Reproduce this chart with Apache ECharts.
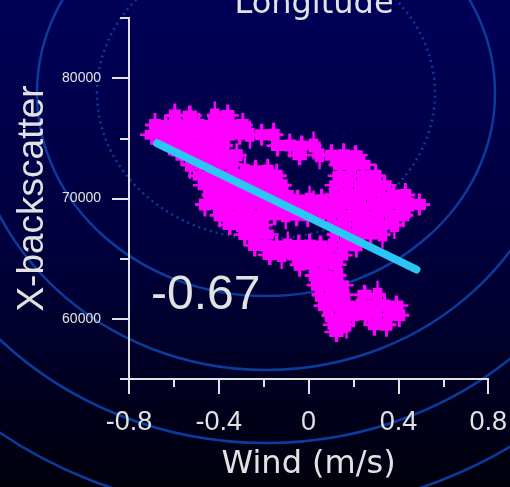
<!DOCTYPE html>
<html><head><meta charset="utf-8">
<script src="https://cdn.jsdelivr.net/npm/echarts@6/dist/echarts.min.js"></script>
<style>html,body{margin:0;padding:0;background:#00002a;} #c{width:510px;height:487px;}</style>
</head><body><div id="c"></div>
<script>
// ---- data ----
const titleText = 'Longitude';
const xAxisName = 'Wind (m/s)';
const yAxisName = 'X-backscatter';
const correlationText = '-0.67';
const xMin = -0.8, xMax = 0.8, xStep = 0.4;
const yMin = 55000, yMax = 85000, yMinorStep = 5000;
const yMajorTicks = [60000, 70000, 80000];

// magenta observations, grouped by backscatter level
const backscatterRows = [76900, 76100, 75300, 74400, 73600, 72800, 72300, 71900, 71100, 70300, 69900, 69500,
  68600, 67800, 67000, 66100, 65300, 64500, 63600, 62800, 62000, 61100, 60300, 59500, 58900];
const windRows = [
  [-0.596, -0.529, -0.418, -0.36],
  [-0.684, -0.636, -0.587, -0.538, -0.489, -0.44, -0.391, -0.342, -0.293],
  [-0.698, -0.649, -0.6, -0.551, -0.502, -0.453, -0.404, -0.356, -0.307, -0.262, -0.209, -0.156],
  [-0.618, -0.569, -0.52, -0.471, -0.422, -0.373, -0.138, -0.084, -0.031, 0.022],
  [-0.564, -0.516, -0.467, -0.418, -0.369, -0.32, -0.04, 0.049, 0.102, 0.156, 0.209],
  [-0.529, -0.48, -0.431, -0.382, -0.333, 0.138, 0.191, 0.244],
  [-0.284, -0.236, -0.182],
  [-0.484, -0.436, -0.387, -0.338, -0.289, -0.24, -0.191, -0.142, 0.138, 0.191, 0.244, 0.298],
  [-0.462, -0.413, -0.364, -0.316, -0.267, -0.218, -0.169, -0.12, 0.124, 0.178, 0.231, 0.284, 0.338],
  [-0.44, -0.391, -0.342, -0.293, -0.244, -0.196, -0.147, -0.098, 0.111, 0.164, 0.218, 0.271, 0.324, 0.378, 0.431],
  [-0.049, 0.004, 0.058],
  [-0.462, -0.418, -0.369, -0.32, -0.271, -0.222, -0.173, -0.124, -0.076, -0.027, 0.022, 0.076, 0.129, 0.182, 0.236, 0.289, 0.342, 0.396, 0.449, 0.493],
  [-0.396, -0.347, -0.298, -0.249, -0.2, -0.151, -0.102, -0.053, -0.004, 0.049, 0.102, 0.156, 0.209, 0.262, 0.316, 0.369, 0.422],
  [-0.351, -0.302, -0.253, -0.204, 0.116, 0.169, 0.222, 0.276, 0.329, 0.382],
  [-0.284, -0.236, -0.187, 0.116, 0.169, 0.222, 0.276, 0.329],
  [-0.24, -0.191, -0.142, -0.093, -0.044, 0.004, 0.053, 0.107, 0.16, 0.213],
  [-0.173, -0.12, -0.067, -0.013, 0.04, 0.093, 0.147],
  [-0.04, 0.013, 0.067, 0.12],
  [0.027, 0.08, 0.133],
  [0.04, 0.093, 0.147],
  [0.049, 0.102, 0.156, 0.249, 0.307],
  [0.071, 0.124, 0.178, 0.231, 0.284, 0.338, 0.391],
  [0.093, 0.147, 0.2, 0.253, 0.307, 0.36, 0.404],
  [0.116, 0.169, 0.293, 0.347],
  [0.124]
];
// fitted line end points
const fitWind = [-0.676, 0.48];
const fitBackscatter = [74600, 64100];

// ---- build ----
const points = [];
windRows.forEach((row, i) => row.forEach(w => points.push([w, backscatterRows[i]])));
const fitLine = fitWind.map((w, i) => [w, fitBackscatter[i]]);

const axisColor = '#e2e2e2';
const ringColor = '#0b3c9c';
const ringCenter = [266, 93];
const ringRadii = [[229, 203], [297, 277], [375, 350], [452, 420]];
const dottedRadii = [169, 146];
const crossPath = 'path://M4,6H16V18H4Z M8.5,0H11.5V24H8.5Z M0,10.5H20V13.5H0Z';
const crossSizes = [[20, 24], [24, 20], [16, 28], [22, 22]];

const graphics = [{
  type: 'rect', z: -100, silent: true,
  shape: {x: 0, y: 0, width: 510, height: 487},
  style: {fill: new echarts.graphic.LinearGradient(0, 0, 0, 1, [
    {offset: 0, color: '#000058'}, {offset: 0.5, color: '#00003e'}, {offset: 1, color: '#00000c'}])}
}];
ringRadii.forEach(r => graphics.push({
  type: 'ellipse', z: -50, silent: true,
  shape: {cx: ringCenter[0], cy: ringCenter[1], rx: r[0], ry: r[1]},
  style: {fill: 'none', stroke: ringColor, lineWidth: 2.5}
}));
graphics.push({
  type: 'ellipse', z: -50, silent: true,
  shape: {cx: ringCenter[0], cy: ringCenter[1], rx: dottedRadii[0], ry: dottedRadii[1]},
  style: {fill: 'none', stroke: ringColor, lineWidth: 2.5, lineDash: [2, 4]}
});
graphics.push({
  type: 'text', z: 100, silent: true, x: 151, y: 296,
  style: {text: correlationText, fill: axisColor, font: '48px "Liberation Sans", Arial, sans-serif',
    textAlign: 'left', textVerticalAlign: 'middle'}
});

const chart = echarts.init(document.getElementById('c'), null, {renderer: 'canvas'});
chart.setOption({
  animation: false,
  title: {
    text: titleText, left: 309, top: -16, textAlign: 'center',
    textStyle: {color: axisColor, fontSize: 32, fontWeight: 'normal', fontFamily: 'DejaVu Sans'}
  },
  graphic: graphics,
  grid: {left: 129, right: 21, top: 18, bottom: 108, containLabel: false},
  xAxis: {
    type: 'value', min: xMin, max: xMax, interval: xStep,
    name: xAxisName, nameLocation: 'middle', nameGap: 70,
    nameTextStyle: {color: axisColor, fontSize: 32, fontFamily: 'DejaVu Sans'},
    axisLine: {show: true, onZero: false, lineStyle: {color: axisColor, width: 2}},
    axisTick: {show: true, length: 15, lineStyle: {color: axisColor, width: 2}},
    minorTick: {show: true, splitNumber: 2, length: 8, lineStyle: {color: axisColor, width: 2}},
    splitLine: {show: false}, minorSplitLine: {show: false},
    axisLabel: {color: axisColor, fontSize: 27, margin: 30, fontFamily: '"Liberation Sans", Arial, sans-serif',
      showMinLabel: true, showMaxLabel: true}
  },
  yAxis: [{
    type: 'value', min: yMin, max: yMax, interval: yMinorStep, position: 'left',
    name: yAxisName, nameLocation: 'middle', nameGap: 75, nameRotate: 90,
    nameTextStyle: {color: axisColor, fontSize: 37, fontFamily: '"Liberation Sans", Arial, sans-serif'},
    axisLine: {show: true, onZero: false, lineStyle: {color: axisColor, width: 2}},
    axisTick: {show: true, length: 9, lineStyle: {color: axisColor, width: 2}},
    axisLabel: {show: true, color: axisColor, fontSize: 14, margin: 28,
      fontFamily: '"Liberation Sans", Arial, sans-serif',
      formatter: v => yMajorTicks.indexOf(v) >= 0 ? String(v) : ''},
    splitLine: {show: false}
  }, {
    type: 'value', min: yMin, max: yMax, position: 'left', offset: 0,
    axisLine: {show: true, onZero: false, lineStyle: {color: axisColor, width: 2}},
    axisTick: {show: true, length: 17, customValues: yMajorTicks, lineStyle: {color: axisColor, width: 2}},
    axisLabel: {show: false}, splitLine: {show: false}
  }],
  series: [{
    type: 'scatter', data: points, yAxisIndex: 0,
    symbol: crossPath,
    symbolSize: (v, p) => crossSizes[p.dataIndex % crossSizes.length],
    itemStyle: {color: '#ff00ff', opacity: 1},
    z: 3
  }, {
    type: 'line', data: fitLine, yAxisIndex: 0, symbol: 'none',
    lineStyle: {color: '#2cc6f5', width: 8, cap: 'round'},
    z: 4
  }]
});
</script>
</body></html>
